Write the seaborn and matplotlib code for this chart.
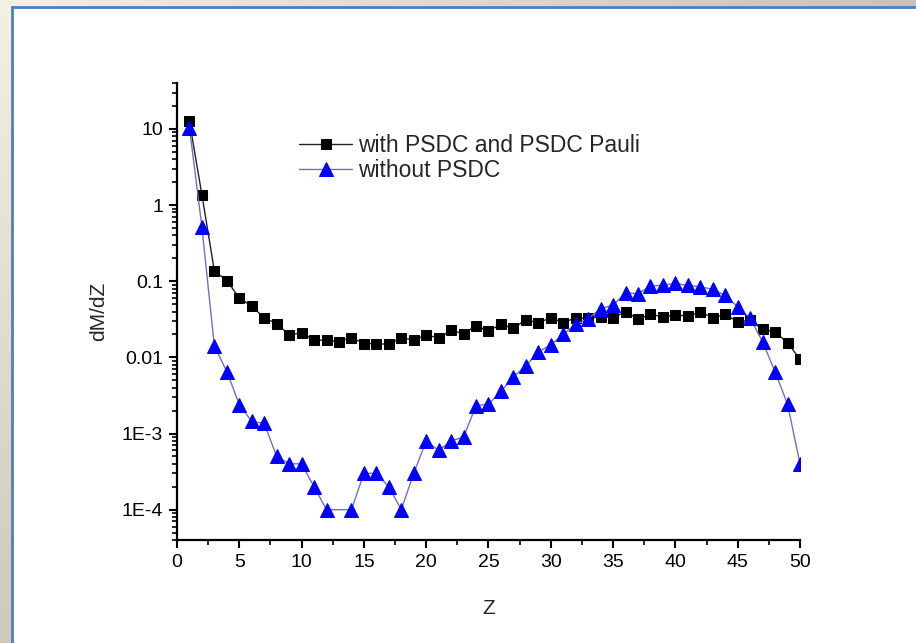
import numpy as np
import pandas as pd
import matplotlib
matplotlib.use("Agg")
import matplotlib.pyplot as plt
from matplotlib.patches import Rectangle
from matplotlib.ticker import FixedLocator, FixedFormatter, LogLocator, MultipleLocator, NullFormatter
import seaborn as sns

# Fragment distribution dM/dZ versus charge Z
z_with = list(range(1, 51))
dmdz_with = [12.5, 1.36, 0.136, 0.102, 0.060, 0.047, 0.033, 0.0277, 0.0197, 0.021,
             0.0168, 0.0168, 0.0161, 0.0182, 0.0152, 0.0152, 0.0148, 0.0182, 0.0168, 0.0197,
             0.018, 0.0226, 0.0205, 0.0258, 0.0222, 0.0271, 0.024, 0.0313, 0.0283, 0.0332,
             0.0285, 0.0332, 0.0325, 0.0342, 0.0332, 0.0397, 0.032, 0.0366, 0.0342, 0.036,
             0.035, 0.0394, 0.0332, 0.0366, 0.0294, 0.0306, 0.0233, 0.0216, 0.0156, 0.0094]

z_without = [1, 2, 3, 4, 5, 6, 7, 8, 9, 10, 11, 12, 14, 15, 16, 17, 18, 19, 20,
             21, 22, 23, 24, 25, 26, 27, 28, 29, 30, 31, 32, 33, 34, 35, 36, 37, 38,
             39, 40, 41, 42, 43, 44, 45, 46, 47, 48, 49, 50]
dmdz_without = [10.4, 0.51, 0.0141, 0.0065, 0.0024, 0.00144, 0.00136, 5e-4, 4e-4, 4e-4,
                2e-4, 1e-4, 1e-4, 3e-4, 3e-4, 2e-4, 1e-4, 3e-4, 8e-4,
                6e-4, 8e-4, 9e-4, 0.00232, 0.00243, 0.00357, 0.00556, 0.00773, 0.0118, 0.0146,
                0.0201, 0.0271, 0.0322, 0.0435, 0.0486, 0.0705, 0.0684, 0.0863,
                0.0889, 0.0933, 0.0879, 0.0845, 0.078, 0.065, 0.0458, 0.0325, 0.016, 0.00646,
                0.00243, 4e-4]

label_with = "with PSDC and PSDC Pauli"
label_without = "without PSDC"

y_ticks = [10, 1, 0.1, 0.01, 1e-3, 1e-4]
y_tick_labels = ["10", "1", "0.1", "0.01", "1E-3", "1E-4"]
x_ticks = list(range(0, 51, 5))

sns.set_theme(style="ticks")
plt.rcParams["font.family"] = ["Liberation Sans", "DejaVu Sans"]

W, H = 916, 643
fig = plt.figure(figsize=(W / 100, H / 100), dpi=100)

# Slide-style gradient backdrop
bg = fig.add_axes([0, 0, 1, 1], zorder=-10)
bg.set_axis_off()
yy, xx = np.mgrid[0:1:200j, 0:1:300j]
tl = np.array([243, 241, 226]) / 255
tr = np.array([198, 196, 180]) / 255
bl = np.array([204, 202, 187]) / 255
br = np.array([188, 186, 170]) / 255
grad = ((1 - xx)[..., None] * (1 - yy)[..., None] * tl + xx[..., None] * (1 - yy)[..., None] * tr
        + (1 - xx)[..., None] * yy[..., None] * bl + xx[..., None] * yy[..., None] * br)
bg.imshow(grad, extent=[0, 1, 0, 1], aspect="auto", origin="upper")
bg.set_xlim(0, 1)
bg.set_ylim(0, 1)

# White content panel with blue edge
panel = Rectangle((12 / W, -0.01), 1.0, (H - 7) / H + 0.01, transform=fig.transFigure,
                  facecolor="white", edgecolor="#4F7FC0", linewidth=2.0, zorder=-5)
fig.patches.append(panel)

ax = fig.add_axes([177 / W, (H - 540) / H, (800 - 177) / W, (540 - 83) / H])
ax.set_facecolor("none")

df_with = pd.DataFrame({"Z": z_with, "dMdZ": dmdz_with})
df_without = pd.DataFrame({"Z": z_without, "dMdZ": dmdz_without})

sns.lineplot(data=df_with, x="Z", y="dMdZ", ax=ax, color="#222222", linewidth=1.0,
             marker="s", markersize=7, markerfacecolor="black", markeredgecolor="black",
             label=label_with, zorder=3)
sns.lineplot(data=df_without, x="Z", y="dMdZ", ax=ax, color="#7070C0", linewidth=1.0,
             marker="^", markersize=9.5, markerfacecolor="#0000FF", markeredgecolor="#0000FF",
             label=label_without, zorder=4)

ax.set_yscale("log")
ax.set_xlim(0, 50)
ax.set_ylim(4e-5, 40)

ax.xaxis.set_major_locator(FixedLocator(x_ticks))
ax.xaxis.set_minor_locator(MultipleLocator(2.5))
ax.yaxis.set_major_locator(FixedLocator(y_ticks))
ax.yaxis.set_major_formatter(FixedFormatter(y_tick_labels))
ax.yaxis.set_minor_locator(LogLocator(base=10, subs=np.arange(2, 10), numticks=20))
ax.yaxis.set_minor_formatter(NullFormatter())

for s in ["top", "right"]:
    ax.spines[s].set_visible(False)
for s in ["left", "bottom"]:
    ax.spines[s].set_linewidth(1.6)
    ax.spines[s].set_color("black")

ax.tick_params(axis="both", which="major", direction="out", length=6, width=1.5,
               labelsize=14, colors="black", pad=4)
ax.tick_params(axis="both", which="minor", direction="out", length=3.5, width=1.2, colors="black")

ax.set_xlabel("Z", fontsize=15, labelpad=20)
ax.set_ylabel("dM/dZ", fontsize=15, labelpad=10)

leg = ax.legend(loc="upper left", bbox_to_anchor=(290 / W, (H - 125) / H),
                bbox_transform=fig.transFigure, frameon=False, fontsize=16.5,
                handlelength=2.3, handletextpad=0.25, labelspacing=0.1, borderaxespad=0)

fig.savefig("out.png", dpi=100)
